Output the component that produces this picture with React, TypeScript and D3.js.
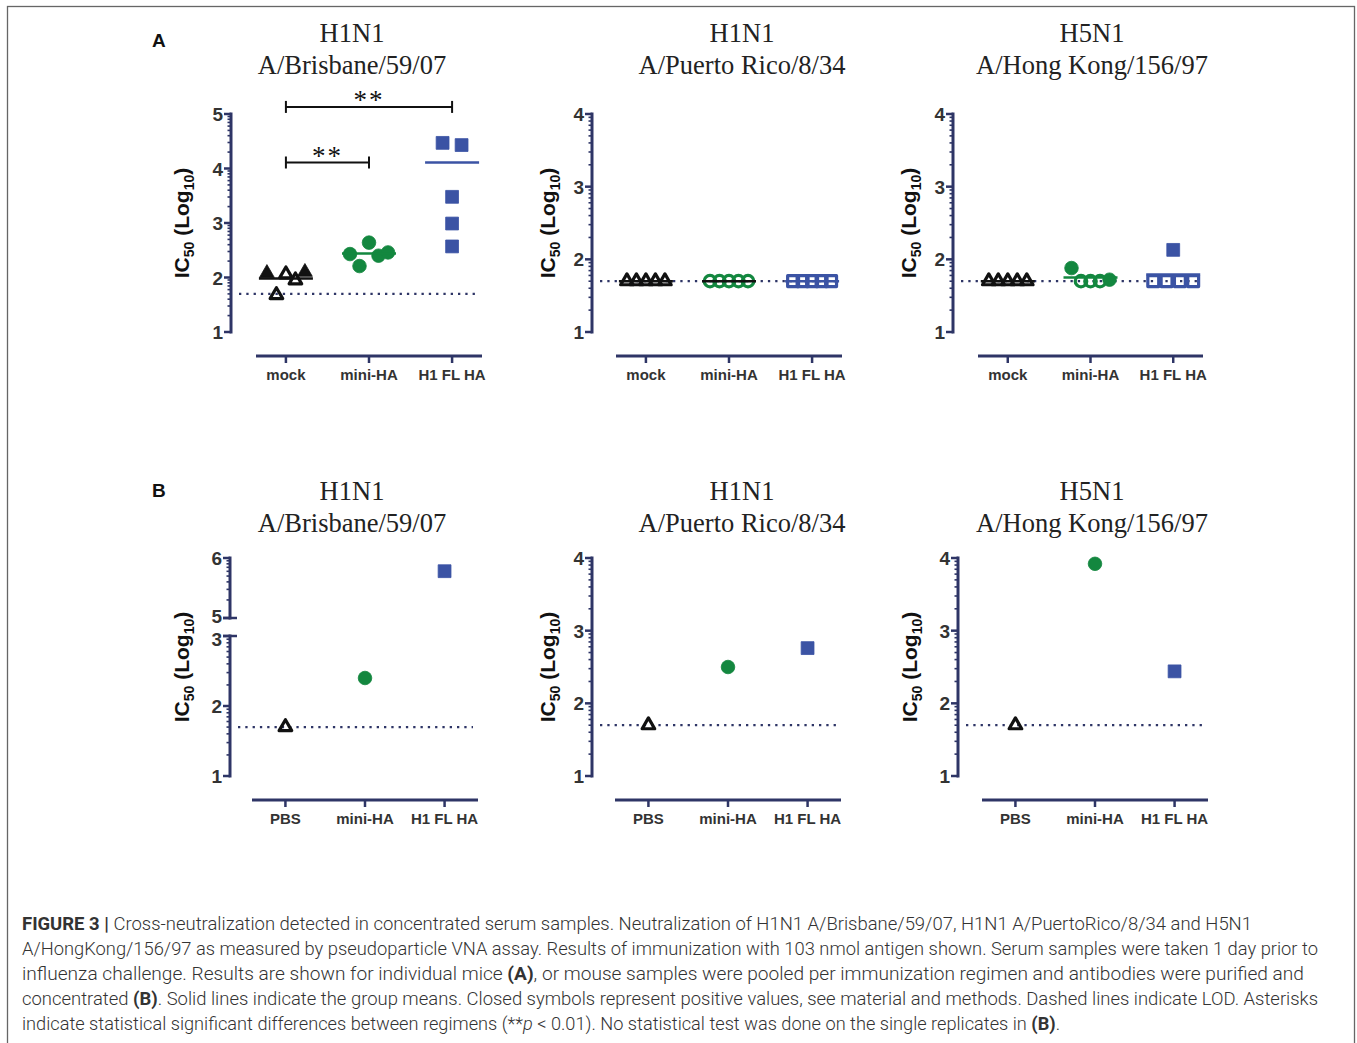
import React from "react";
import * as d3 from "d3";

const W = 1357;
const H = 1043;

// ---------- data ----------
const groupsA = ["mock", "mini-HA", "H1 FL HA"];
const groupsB = ["PBS", "mini-HA", "H1 FL HA"];
const virusTitles = ["H1N1", "H1N1", "H5N1"];
const strainTitles = ["A/Brisbane/59/07", "A/Puerto Rico/8/34", "A/Hong Kong/156/97"];
const lodValue = 1.699;

// Panel A – individual mice (log10 IC50), filled = positive value, slot = horizontal spread index
const a1Values = [[2.08, 1.68, 2.06, 1.95, 2.1], [2.43, 2.21, 2.64, 2.4, 2.46], [4.47, 4.43, 3.48, 2.99, 2.57]];
const a1Filled = [[1, 0, 0, 0, 1], [1, 1, 1, 1, 1], [1, 1, 1, 1, 1]];
const a1Slots = [[-2, -1, 0, 1, 2], [-2, -1, 0, 1, 2], [-1, 1, 0, 0, 0]];
const a1Means = [1.98, 2.44, 4.11];

const a2Values = [[1.7, 1.7, 1.7, 1.7, 1.7], [1.7, 1.7, 1.7, 1.7, 1.7], [1.7, 1.7, 1.7, 1.7, 1.7]];
const a2Filled = [[0, 0, 0, 0, 0], [0, 0, 0, 0, 0], [0, 0, 0, 0, 0]];
const a2Slots = [[-2, -1, 0, 1, 2], [-2, -1, 0, 1, 2], [-2, -1, 0, 1, 2]];
const a2Means = [1.7, 1.7, 1.7];

const a3Values = [[1.7, 1.7, 1.7, 1.7, 1.7], [1.88, 1.7, 1.7, 1.7, 1.72], [1.7, 1.7, 2.13, 1.7, 1.7]];
const a3Filled = [[0, 0, 0, 0, 0], [1, 0, 0, 0, 1], [0, 0, 1, 0, 0]];
const a3Slots = [[-2, -1, 0, 1, 2], [-2, -1, 0, 1, 2], [-2.1, -0.7, 0, 0.7, 2.1]];
const a3Means = [1.7, 1.75, 1.79];

// Significance (panel A1)
const sigFrom = ["mock", "mock"];
const sigTo = ["mini-HA", "H1 FL HA"];
const sigLevel = [4.11, 5.13];
const sigText = ["**", "**"];

// Panel B – pooled, purified serum
const b1Values = [1.7, 2.4, 5.78];
const b2Values = [1.7, 2.5, 2.76];
const b3Values = [1.7, 3.92, 2.44];
const bFilled = [0, 1, 1];

// ---------- styles ----------
const AXIS = "#2e3566";
const TXT = "#333333";
const COLORS = ["#111111", "#13873f", "#3b53a4"];
const SYMS = [d3.symbolTriangle, d3.symbolCircle, d3.symbolSquare];
const SIZES = [95, 145, 165];
const SANS = "'Liberation Sans', Arial, sans-serif";
const SERIF = "'Liberation Serif', 'Times New Roman', serif";

type PanelCfg = {
  axisX: number; xStart: number; xEnd: number; titleX: number; labelX: number;
  yTop: number; yBottom: number; xAxisY: number; titleY1: number; titleY2: number; catY: number;
  segments: number[][]; domain: number[]; range: number[]; pad: number;
  groups: string[]; virus: string; strain: string;
  values: number[][]; filled: number[][]; slots: number[][]; means?: number[]; meanColors?: string[];
  sig?: boolean;
};

function symbolPath(g: number, open: boolean) {
  const s = open ? SIZES[g] * 0.72 : SIZES[g];
  return d3.symbol().type(SYMS[g]).size(s)() as string;
}

function Panel({ c }: { c: PanelCfg }) {
  const y = d3.scaleLinear().domain(c.domain).range(c.range);
  const x = d3.scalePoint<string>().domain(c.groups).range([c.xStart, c.xEnd]).padding(c.pad);
  const slotW = 9.5;
  const majors: { v: number; shift: number }[] = [];
  const minors: number[] = [];
  const broken = c.segments.length > 1;
  c.segments.forEach(([a, b], si) => {
    for (let d = a; d <= b; d++) {
      let shift = 0;
      if (broken && si === 0 && d === b) shift = 3;
      if (broken && si === 1 && d === a) shift = -2;
      majors.push({ v: d, shift });
    }
    for (let d = a; d < b; d++) for (let k = 2; k <= 9; k++) minors.push(d + Math.log10(k));
  });
  const midY = (c.yTop + c.yBottom) / 2;
  return (
    <g>
      {/* titles */}
      <text x={c.titleX} y={c.titleY1} textAnchor="middle" fontFamily={SERIF} fontSize={26.5} fill="#222">{c.virus}</text>
      <text x={c.titleX} y={c.titleY2} textAnchor="middle" fontFamily={SERIF} fontSize={26.5} fill="#222">{c.strain}</text>
      {/* y axis segments */}
      {c.segments.map(([a, b], i) => (
        <line key={"seg" + i} x1={c.axisX} x2={c.axisX} y1={y(a) + 1.5} y2={y(b) - 1.5} stroke={AXIS} strokeWidth={3} />
      ))}
      {broken && c.segments.map(([a, b], i) => {
        const v = i === 0 ? b : a;
        return <line key={"cap" + i} x1={c.axisX - 7} x2={c.axisX + 7} y1={y(v)} y2={y(v)} stroke={AXIS} strokeWidth={2.5} />;
      })}
      {minors.map((v, i) => (
        <line key={"mn" + i} x1={c.axisX - 3.5} x2={c.axisX} y1={y(v)} y2={y(v)} stroke={AXIS} strokeWidth={1.6} />
      ))}
      {majors.map(({ v, shift }) => (
        <g key={"mj" + v}>
          <line x1={c.axisX - 7} x2={c.axisX} y1={y(v)} y2={y(v)} stroke={AXIS} strokeWidth={2.5} />
          <text x={c.axisX - 8} y={y(v) + 7 + shift} textAnchor="end" fontFamily={SANS} fontWeight={700} fontSize={19} fill={TXT}>{v}</text>
        </g>
      ))}
      {/* y label */}
      <text transform={`translate(${c.labelX},${midY}) rotate(-90)`} textAnchor="middle" fontFamily={SANS} fontWeight={700} fontSize={21} fill="#111">
        IC<tspan fontSize={14} dy={5}>50</tspan><tspan dy={-5}> (Log</tspan><tspan fontSize={14} dy={5}>10</tspan><tspan dy={-5}>)</tspan>
      </text>
      {/* x axis */}
      <line x1={c.xStart} x2={c.xEnd} y1={c.xAxisY} y2={c.xAxisY} stroke={AXIS} strokeWidth={3} />
      {c.groups.map((g) => (
        <g key={"xt" + g}>
          <line x1={x(g)} x2={x(g)} y1={c.xAxisY} y2={c.xAxisY + 7} stroke={AXIS} strokeWidth={2.5} />
          <text x={x(g)} y={c.catY} textAnchor="middle" fontFamily={SANS} fontWeight={700} fontSize={15} fill={TXT}>{g}</text>
        </g>
      ))}
      {/* LOD */}
      <line x1={c.axisX + 8} x2={c.xEnd - 5} y1={y(lodValue)} y2={y(lodValue)} stroke={AXIS} strokeWidth={2.3} strokeDasharray="2.3 5" />
      {/* points */}
      {c.values.map((vals, gi) => vals.map((v, j) => {
        const open = !c.filled[gi][j];
        const cx = (x(c.groups[gi]) as number) + c.slots[gi][j] * slotW;
        return (
          <path key={`p${gi}-${j}`} d={symbolPath(gi, open)} transform={`translate(${cx},${y(v)})`}
            fill={open ? "none" : COLORS[gi]} stroke={COLORS[gi]} strokeWidth={open ? 3.2 : 0.8} strokeLinejoin="round" />
        );
      }))}
      {/* means */}
      {c.means && c.means.map((m, gi) => (
        <line key={"m" + gi} x1={(x(c.groups[gi]) as number) - 27} x2={(x(c.groups[gi]) as number) + 27} y1={y(m)} y2={y(m)}
          stroke={c.meanColors![gi]} strokeWidth={2.5} />
      ))}
      {/* significance */}
      {c.sig && sigFrom.map((f, i) => {
        const x1 = x(f) as number, x2 = x(sigTo[i]) as number, yy = y(sigLevel[i]);
        return (
          <g key={"sig" + i}>
            <line x1={x1} x2={x2} y1={yy} y2={yy} stroke="#111" strokeWidth={2} />
            <line x1={x1} x2={x1} y1={yy - 6} y2={yy + 6} stroke="#111" strokeWidth={2} />
            <line x1={x2} x2={x2} y1={yy - 6} y2={yy + 6} stroke="#111" strokeWidth={2} />
            <text x={(x1 + x2) / 2} y={yy + 2} textAnchor="middle" fontFamily={SERIF} fontSize={27} letterSpacing={2} fill="#111">{sigText[i]}</text>
          </g>
        );
      })}
    </g>
  );
}

const aLayout = [
  { axisX: 231, xStart: 256, xEnd: 482, titleX: 352, labelX: 189 },
  { axisX: 592, xStart: 616, xEnd: 842, titleX: 742, labelX: 555 },
  { axisX: 953, xStart: 978, xEnd: 1203, titleX: 1092, labelX: 916 },
];
const bLayout = [
  { axisX: 230, xStart: 252, xEnd: 478, titleX: 352, labelX: 189 },
  { axisX: 592, xStart: 615, xEnd: 841, titleX: 742, labelX: 555 },
  { axisX: 958, xStart: 982, xEnd: 1208, titleX: 1092, labelX: 917 },
];

const aValues = [a1Values, a2Values, a3Values];
const aFilled = [a1Filled, a2Filled, a3Filled];
const aSlots = [a1Slots, a2Slots, a3Slots];
const aMeans = [a1Means, a2Means, a3Means];
const aMeanColors = [
  [COLORS[0], COLORS[1], COLORS[2]],
  [COLORS[0], COLORS[0], COLORS[2]],
  [COLORS[0], COLORS[1], COLORS[2]],
];
const bValues = [b1Values, b2Values, b3Values];

const panels: PanelCfg[] = [
  ...aLayout.map((l, i) => ({
    ...l, yTop: 114, yBottom: 332, xAxisY: 356, titleY1: 42, titleY2: 74, catY: 380,
    segments: i === 0 ? [[1, 5]] : [[1, 4]],
    domain: i === 0 ? [1, 5] : [1, 4], range: [332, 114], pad: 0.36,
    groups: groupsA, virus: virusTitles[i], strain: strainTitles[i],
    values: aValues[i], filled: aFilled[i], slots: aSlots[i], means: aMeans[i], meanColors: aMeanColors[i],
    sig: i === 0,
  })),
  ...bLayout.map((l, i) => ({
    ...l, yTop: 558, yBottom: 776, xAxisY: 800, titleY1: 500, titleY2: 532, catY: 824,
    segments: i === 0 ? [[1, 3], [5, 6]] : [[1, 4]],
    domain: i === 0 ? [1, 3, 5, 6] : [1, 4], range: i === 0 ? [776, 636, 618, 558] : [776, 558], pad: 0.42,
    groups: groupsB, virus: virusTitles[i], strain: strainTitles[i],
    values: bValues[i].map((v) => [v]), filled: bFilled.map((f) => [f]), slots: bFilled.map(() => [0]),
  })),
];

const captionLines: { parts: { t: string; b?: boolean; i?: boolean }[]; end: number }[] = [
  { parts: [{ t: "FIGURE 3 |", b: true }, { t: " Cross-neutralization detected in concentrated serum samples. Neutralization of H1N1 A/Brisbane/59/07, H1N1 A/PuertoRico/8/34 and H5N1" }], end: 1252 },
  { parts: [{ t: "A/HongKong/156/97 as measured by pseudoparticle VNA assay. Results of immunization with 103 nmol antigen shown. Serum samples were taken 1 day prior to" }], end: 1318 },
  { parts: [{ t: "influenza challenge. Results are shown for individual mice " }, { t: "(A)", b: true }, { t: ", or mouse samples were pooled per immunization regimen and antibodies were purified and" }], end: 1304 },
  { parts: [{ t: "concentrated " }, { t: "(B)", b: true }, { t: ". Solid lines indicate the group means. Closed symbols represent positive values, see material and methods. Dashed lines indicate LOD. Asterisks" }], end: 1318 },
  { parts: [{ t: "indicate statistical significant differences between regimens (**" }, { t: "p", i: true }, { t: " < 0.01). No statistical test was done on the single replicates in " }, { t: "(B)", b: true }, { t: "." }], end: 1060 },
];

export default function App() {
  return (
    <svg width={W} height={H} style={{ position: "absolute", left: 0, top: 0, background: "#fff" }}>
      <rect x={0} y={0} width={W} height={H} fill="#fff" />
      <rect x={7.5} y={6.5} width={1347} height={1060} fill="none" stroke="#666" strokeWidth={1.3} />
      <text x={152} y={47} fontFamily={SANS} fontWeight={700} fontSize={19} fill="#111">A</text>
      <text x={152} y={497} fontFamily={SANS} fontWeight={700} fontSize={19} fill="#111">B</text>
      {panels.map((p, i) => <Panel key={i} c={p} />)}
      {captionLines.map((ln, i) => (
        <text key={"cap" + i} x={22} y={930 + i * 25} fontFamily="Roboto, 'Liberation Sans', sans-serif" fontWeight={300} fontSize={17.5}
          fill="#333" textLength={ln.end - 22} lengthAdjust="spacingAndGlyphs">
          {ln.parts.map((p, j) => (
            <tspan key={j} fontWeight={p.b ? 700 : 300} fontStyle={p.i ? "italic" : "normal"}>{p.t}</tspan>
          ))}
        </text>
      ))}
    </svg>
  );
}
